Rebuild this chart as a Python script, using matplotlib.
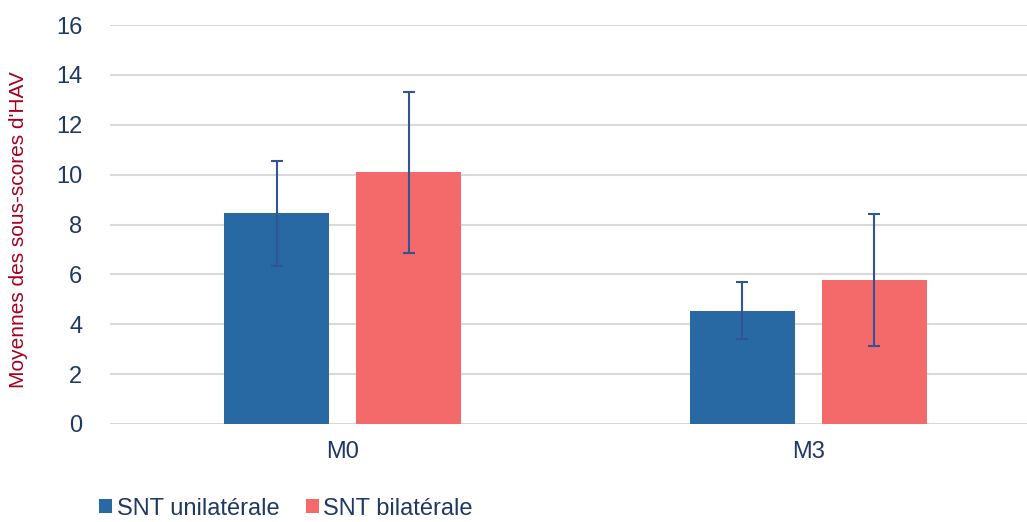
import numpy as np
import matplotlib
matplotlib.use("Agg")
import matplotlib.pyplot as plt

# données
periodes = ["M0", "M3"]
unilat = [8.45, 4.55]
unilat_err = [2.1, 1.15]
bilat = [10.1, 5.77]
bilat_err = [3.23, 2.64]

plt.rcParams['font.family'] = ['Liberation Sans', 'DejaVu Sans']

fig = plt.figure(figsize=(10.27, 5.22), dpi=100)
ax = fig.add_axes([110 / 1027, (522 - 424) / 522, 931 / 1027, 399 / 522])

x = np.arange(len(periodes))
w = 0.225
off = 0.142
err_kw = dict(ecolor="#2F5597", elinewidth=1.5, capsize=4.5, capthick=1.5)

ax.bar(x - off, unilat, width=w, color="#2868A3", yerr=unilat_err,
       error_kw=err_kw, label="SNT unilatérale", zorder=3)
ax.bar(x + off, bilat, width=w, color="#F46A6B", yerr=bilat_err,
       error_kw=err_kw, label="SNT bilatérale", zorder=3)

ax.set_xlim(-0.5, 1.5)
ax.set_ylim(0, 16)
ax.set_yticks(range(0, 17, 2))
ax.set_xticks(x)
ax.set_xticklabels(periodes)
ax.grid(axis="y", color="#D9D9D9", linewidth=1.5, zorder=0)
ax.set_axisbelow(True)
for s in ax.spines.values():
    s.set_visible(False)
ax.tick_params(length=0, labelsize=17, labelcolor="#1F3864")
ax.tick_params(axis="y", pad=20)
ax.tick_params(axis="x", pad=12)

fig.text(19 / 1027, 0.56, "Moyennes des sous-scores d'HAV", rotation=90,
         color="#A50021", fontsize=15, ha="center", va="center")

leg = fig.legend(loc="lower left", bbox_to_anchor=(78 / 1027, -0.036), ncol=2,
                 frameon=False, fontsize=17, handlelength=0.55, handleheight=0.55,
                 handletextpad=0.2, columnspacing=1.1)
for t in leg.get_texts():
    t.set_color("#1F3864")

fig.savefig("out.png", dpi=100)
